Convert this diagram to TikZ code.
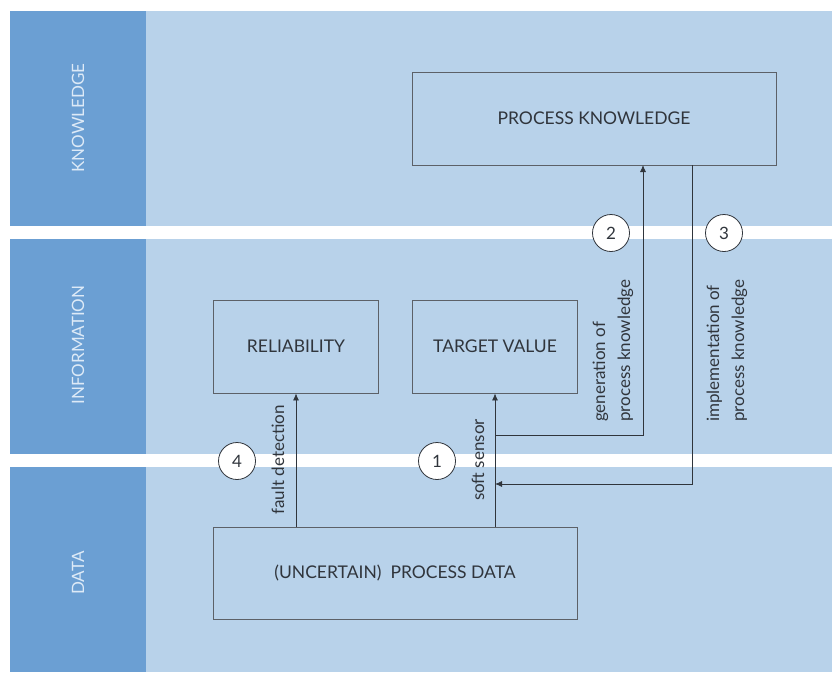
\documentclass[tikz,border=0pt]{standalone}
\usepackage{fontspec}
\setmainfont{Lato}
\usetikzlibrary{arrows.meta}
\definecolor{lanedark}{HTML}{6B9FD3}
\definecolor{lanelight}{HTML}{B8D2EA}
\definecolor{lanetext}{HTML}{DDEAF7}
\definecolor{boxline}{HTML}{5C6168}
\definecolor{ink}{HTML}{30353C}
\begin{document}
\begin{tikzpicture}[x=1pt,y=-1pt,
  lanehead/.style={fill=lanedark, draw=none},
  lanebody/.style={fill=lanelight, draw=none},
  lanelabel/.style={rotate=90, text=lanetext, inner sep=0,
    font=\fontsize{17}{20}\selectfont},
  procbox/.style={draw=boxline, line width=0.8pt, text=ink, inner sep=0,
    font=\fontsize{17.5}{20}\selectfont},
  flow/.style={draw=ink, line width=0.8pt, -{Latex[length=7pt,width=6pt]}},
  plain/.style={draw=ink, line width=0.8pt},
  stepnum/.style={circle, draw=ink, line width=0.8pt, fill=white,
    minimum size=37pt, inner sep=0, text=ink, font=\fontsize{17}{20}\selectfont},
  caption/.style={rotate=90, text=ink, inner sep=0, align=left,
    font=\fontsize{17}{25}\selectfont}]

  \useasboundingbox (0,0) rectangle (832,672);
  \fill[white] (0,0) rectangle (832,672);

  % swim lanes
  \fill[lanehead] (10,11) rectangle (146,226);
  \fill[lanebody] (146,11) rectangle (832,226);
  \fill[lanehead] (10,239) rectangle (146,454);
  \fill[lanebody] (146,239) rectangle (832,454);
  \fill[lanehead] (10,467) rectangle (146,672);
  \fill[lanebody] (146,467) rectangle (832,672);

  \node[lanelabel] (lk) at (78,118) {KNOWLEDGE};
  \node[lanelabel] (li) at (78,345) {INFORMATION};
  \node[lanelabel] (ld) at (78,573) {DATA};

  % process boxes
  \node[procbox, minimum width=364pt, minimum height=93pt] (pk) at (594,118.5) {PROCESS KNOWLEDGE};
  \node[procbox, minimum width=165pt, minimum height=93pt] (rel) at (296,346.5) {RELIABILITY};
  \node[procbox, minimum width=165pt, minimum height=93pt] (tgt) at (495,346.5) {TARGET VALUE};
  \node[procbox, minimum width=364pt, minimum height=92pt] (pd) at (395,573) {(UNCERTAIN)\ \ PROCESS DATA};

  % connectors
  \coordinate (tap) at (495,435);
  \coordinate (join) at (495,484);
  \coordinate (genin) at (643,165);
  \coordinate (implout) at (692,165);

  \draw[flow] (pd.north -| rel.south) -- (rel.south);
  \draw[flow] (pd.north -| tgt.south) -- (tgt.south);
  \draw[flow] (tap) -| (genin);
  \draw[flow] (implout) |- (join);

  % step markers
  \node[stepnum] (s1) at (437,461) {1};
  \node[stepnum] (s2) at (611,233) {2};
  \node[stepnum] (s3) at (724,233) {3};
  \node[stepnum] (s4) at (237,461) {4};

  % connector captions
  \node[caption] (cfd) at (278,460) {fault detection};
  \node[caption] (css) at (478,460) {soft sensor};
  \node[caption, anchor=west] (cgen) at (613,422) {generation of\\process knowledge};
  \node[caption, anchor=west] (cimp) at (727,422) {implementation of\\process knowledge};
\end{tikzpicture}
\end{document}
